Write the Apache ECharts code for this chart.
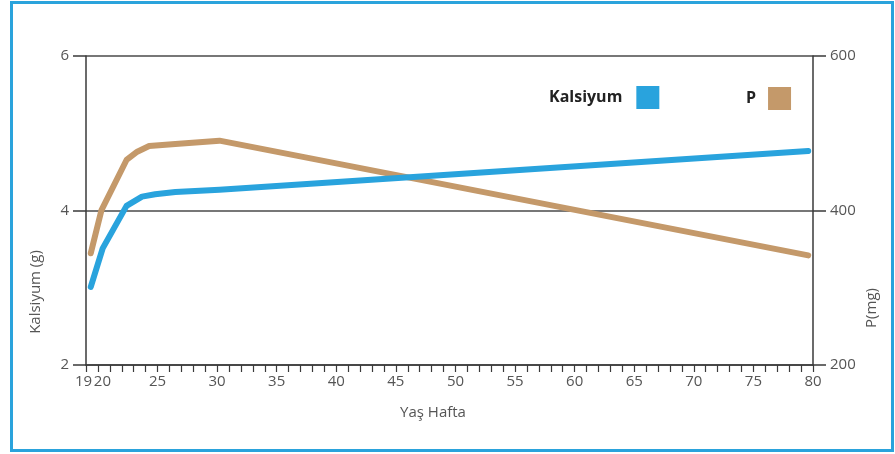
<!DOCTYPE html>
<html>
<head>
<meta charset="utf-8">
<script src="https://cdn.jsdelivr.net/npm/echarts@6/dist/echarts.min.js"></script>
<style>
html,body{margin:0;padding:0;background:#fff;}
#c{width:895px;height:454px;}
</style>
</head>
<body>
<div id="c"></div>
<script>
// Data
var calciumWeeks = [19.4, 20.4, 22.4, 23.7, 24.8, 26.5, 30.2, 79.6];
var calciumValues = [3.01, 3.51, 4.06, 4.18, 4.21, 4.24, 4.27, 4.77];
var phosWeeks = [19.4, 20.3, 22.4, 23.3, 24.3, 26.5, 30.2, 79.6];
var phosValues = [344.6, 400.6, 465.4, 476.1, 483.5, 486.1, 490.4, 341.9];
var xLabels = ['19', '20', '25', '30', '35', '40', '45', '50', '55', '60', '65', '70', '75', '80'];
var weekCategories = [];
for (var w = 19; w <= 80; w++) weekCategories.push(String(w));
var leftTicks = [2, 4, 6];
var rightTicks = [200, 400, 600];
var seriesNames = ['Kalsiyum', 'P'];

var font = '"Open Sans", "Noto Sans", sans-serif';
var axisColor = '#3a3a3a';
var labelColor = '#555';

function pairs(xs, ys) { return xs.map(function (x, i) { return [x, ys[i]]; }); }

var chart = echarts.init(document.getElementById('c'), null, { renderer: 'canvas' });
chart.setOption({
  animation: false,
  backgroundColor: '#fff',
  grid: { left: 86, right: 82, top: 56, bottom: 89 },
  legend: [
    {
      data: [seriesNames[0]], left: 544, top: 81, align: 'right', icon: 'rect',
      itemWidth: 23, itemHeight: 23,
      textStyle: { fontFamily: font, fontWeight: 'bold', fontSize: 16, color: '#222', padding: [0, 9, 0, 0] }
    },
    {
      data: [seriesNames[1]], left: 741, top: 82, align: 'right', icon: 'rect',
      itemWidth: 23, itemHeight: 23,
      textStyle: { fontFamily: font, fontWeight: 'bold', fontSize: 16, color: '#222', padding: [0, 7, 0, 0] }
    }
  ],
  xAxis: [
    {
      type: 'value', min: 19, max: 80,
      axisLine: { show: true, lineStyle: { color: axisColor, width: 1.5 } },
      axisTick: { show: false },
      splitLine: { show: false },
      axisLabel: { show: false }
    },
    {
      type: 'category', data: weekCategories, boundaryGap: false, position: 'bottom',
      axisLine: { show: false },
      axisTick: { show: true, interval: 0, length: 7, lineStyle: { color: axisColor, width: 1.2 } },
      splitLine: { show: false },
      axisLabel: {
        interval: 0, fontFamily: font, fontSize: 15, color: labelColor, margin: 9,
        formatter: function (v) {
          if (v === '19') return '{a|19}';
          if (v === '20') return '{b|20}';
          return xLabels.indexOf(v) >= 0 ? v : '';
        },
        rich: {
          a: { fontFamily: font, fontSize: 15, color: labelColor, padding: [0, 5, 0, 0] },
          b: { fontFamily: font, fontSize: 15, color: labelColor, padding: [0, 0, 0, 9] }
        }
      }
    }
  ],
  yAxis: [
    {
      type: 'value', min: leftTicks[0], max: leftTicks[leftTicks.length - 1], interval: 2, position: 'left',
      axisLine: { show: true, lineStyle: { color: axisColor, width: 1.5 } },
      axisTick: { show: true, length: 13, lineStyle: { color: axisColor, width: 1.5 } },
      splitLine: { show: true, lineStyle: { color: '#4a4a4a', width: 1.5 } },
      axisLabel: { fontFamily: font, fontSize: 15, color: labelColor, margin: 17 }
    },
    {
      type: 'value', min: rightTicks[0], max: rightTicks[rightTicks.length - 1], interval: 200, position: 'right',
      axisLine: { show: true, lineStyle: { color: axisColor, width: 1.5 } },
      axisTick: { show: true, length: 13, lineStyle: { color: axisColor, width: 1.5 } },
      splitLine: { show: false },
      axisLabel: { fontFamily: font, fontSize: 15, color: labelColor, margin: 17 }
    }
  ],
  graphic: [
    { type: 'rect', shape: { x: 11.5, y: 2.5, width: 881, height: 448 }, style: { fill: 'none', stroke: '#2aa3dc', lineWidth: 3 }, z: 100 },
    { type: 'text', x: 433, y: 413, style: { text: 'Yaş Hafta', font: '15px ' + font, fill: labelColor, textAlign: 'center', textVerticalAlign: 'middle' } },
    { type: 'text', x: 36, y: 292, rotation: Math.PI / 2, style: { text: 'Kalsiyum (g)', font: '15px ' + font, fill: labelColor, textAlign: 'center', textVerticalAlign: 'middle' } },
    { type: 'text', x: 872, y: 308, rotation: Math.PI / 2, style: { text: 'P(mg)', font: '15px ' + font, fill: labelColor, textAlign: 'center', textVerticalAlign: 'middle' } }
  ],
  series: [
    {
      name: seriesNames[0], type: 'line', xAxisIndex: 0, yAxisIndex: 0, data: pairs(calciumWeeks, calciumValues),
      showSymbol: false, symbol: 'none', color: '#29a3dd',
      lineStyle: { width: 6, color: '#29a3dd', join: 'round', cap: 'round' }, z: 3
    },
    {
      name: seriesNames[1], type: 'line', xAxisIndex: 0, yAxisIndex: 1, data: pairs(phosWeeks, phosValues),
      showSymbol: false, symbol: 'none', color: '#c4996a',
      lineStyle: { width: 6, color: '#c4996a', join: 'round', cap: 'round' }, z: 2
    }
  ]
});
</script>
</body>
</html>
